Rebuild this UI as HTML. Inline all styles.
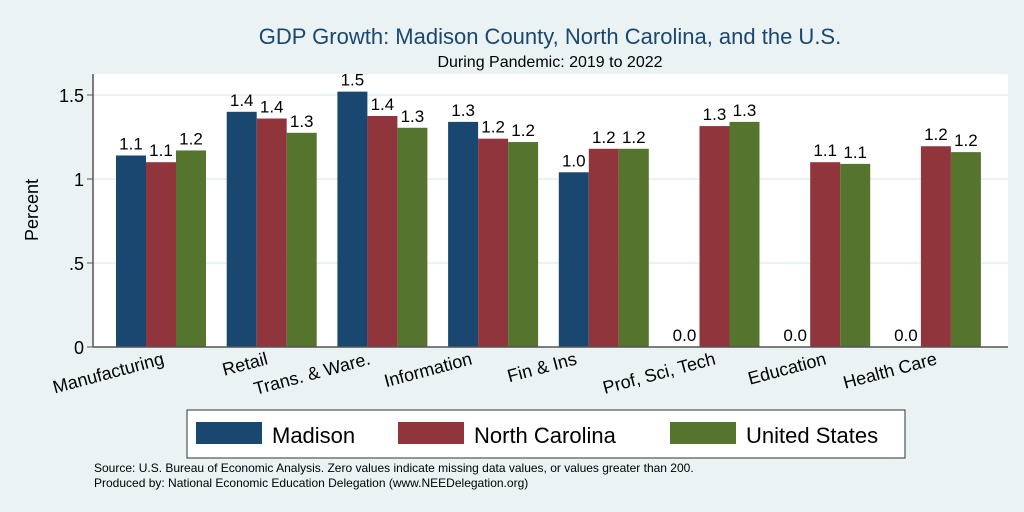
<!DOCTYPE html>
<html><head><meta charset="utf-8"><style>
body{margin:0;background:#eaf2f3;}
svg{display:block;font-family:"Liberation Sans",sans-serif;}
</style></head><body>
<svg width="1024" height="512" viewBox="0 0 1024 512">
<rect width="1024" height="512" fill="#eaf2f3"/>
<text x="550" y="44" font-size="22" fill="#1a476f" text-anchor="middle">GDP Growth: Madison County, North Carolina, and the U.S.</text>
<text x="550" y="67" font-size="16" fill="#000" text-anchor="middle">During Pandemic: 2019 to 2022</text>
<rect x="93" y="74" width="915" height="273" fill="#fff"/>
<g id="grid"></g><g id="bars"></g><g id="xl"></g>
<line x1="93" y1="74" x2="93" y2="347" stroke="#555" stroke-width="1.5"/>
<line x1="93" y1="347" x2="1008" y2="347" stroke="#555" stroke-width="1.5"/>
<text transform="translate(38,210) rotate(-90)" font-size="18" text-anchor="middle">Percent</text>
<g>
<rect x="187" y="410" width="718" height="48" fill="#fff" stroke="#333" stroke-width="1"/>
<rect x="196" y="422" width="66" height="22" fill="#1a476f"/>
<text x="272" y="443" font-size="22">Madison</text>
<rect x="398" y="422" width="66" height="22" fill="#90353b"/>
<text x="474" y="443" font-size="22">North Carolina</text>
<rect x="670" y="422" width="66" height="22" fill="#55752f"/>
<text x="746" y="443" font-size="22">United States</text>
</g>
<text x="94" y="472" font-size="12">Source: U.S. Bureau of Economic Analysis. Zero values indicate missing data values, or values greater than 200.</text>
<text x="94" y="487" font-size="12">Produced by: National Economic Education Delegation (www.NEEDelegation.org)</text>
</svg>
<script>
const categories=["Manufacturing","Retail","Trans. & Ware.","Information","Fin & Ins","Prof, Sci, Tech","Education","Health Care"];
const madison=[1.14,1.40,1.52,1.34,1.04,0,0,0];
const northCarolina=[1.10,1.36,1.375,1.24,1.18,1.315,1.10,1.195];
const unitedStates=[1.17,1.275,1.305,1.22,1.18,1.34,1.09,1.16];
const yTicks=[0,0.5,1,1.5];
const yTickLabels=["0",".5","1","1.5"];
const labelOffsets=[4,-3,-11,-20,-26,2,2,2];
const ns="http://www.w3.org/2000/svg";
const y0=347,pxPer=168;
function yS(v){return y0-v*pxPer;}
function xS(i){return 116+i*110.7;}
const bw=30;
function mk(t,a,p){const e=document.createElementNS(ns,t);for(const k in a)e.setAttribute(k,a[k]);p.appendChild(e);return e;}
const grid=document.getElementById('grid');
yTicks.forEach((v,i)=>{
 if(v>0){const g=mk('line',{x1:93,x2:1008,y1:yS(v),y2:yS(v),stroke:'#e6eef0','stroke-width':1.5},grid);
 
 }
 const tk=mk('line',{x1:87,x2:93,y1:yS(v),y2:yS(v),stroke:'#555'},grid);
 
 
 const t=mk('text',{x:84,y:yS(v)+7,'font-size':18,'text-anchor':'end'},grid);
 t.textContent=yTickLabels[i];
 
 
});
const series=[madison,northCarolina,unitedStates];
const colors=["#1a476f","#90353b","#55752f"];
const sn=["madison","nc","us"];
const bars=document.getElementById('bars');
categories.forEach((c,i)=>{
 series.forEach((s,j)=>{
  const x=xS(i)+j*bw, v=s[i];
  const r=mk('rect',{x:x,y:yS(v),width:bw,height:v*pxPer,fill:colors[j]},bars);
  
  
  const t=mk('text',{x:x+bw/2,y:yS(v)-6,'font-size':17,'text-anchor':'middle'},bars);
  t.textContent=v.toFixed(1);
  
  
 });
 const cx=xS(i)+bw*1.5;
 const t=mk('text',{transform:'translate('+(cx+labelOffsets[i])+',364) rotate(-15)','font-size':18,'text-anchor':'end'},document.getElementById('xl'));
 t.textContent=c;
 
 
});
</script>
</body></html>
